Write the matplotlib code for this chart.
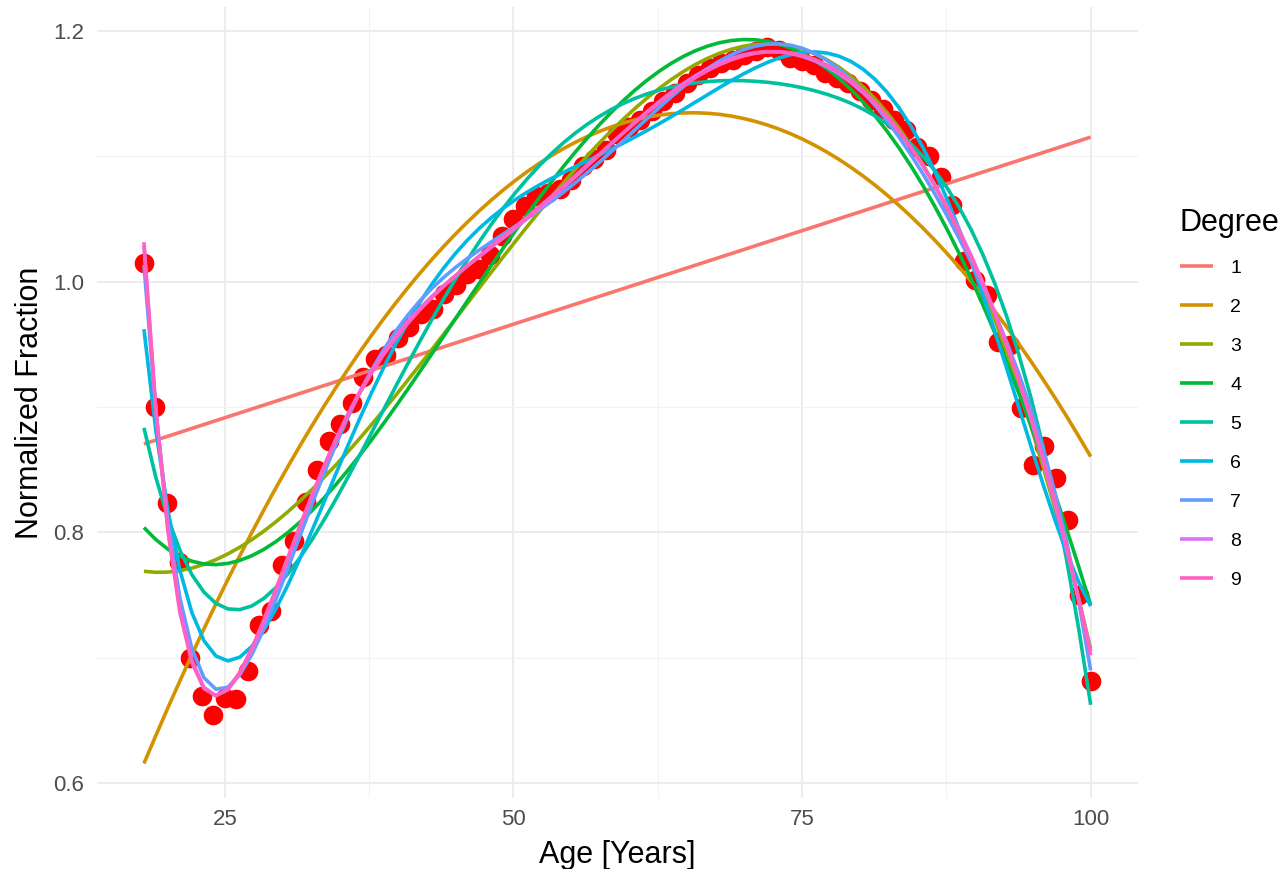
import numpy as np
import matplotlib.pyplot as plt
from matplotlib.ticker import MultipleLocator

plt.rcParams['font.family'] = ['Liberation Sans', 'DejaVu Sans']

# Datos: edad y fraccion normalizada
edad = np.arange(18, 101)
fraccion = [
    1.015, 0.900, 0.823, 0.776, 0.700, 0.669, 0.654, 0.668, 0.667, 0.689,
    0.726, 0.737, 0.774, 0.793, 0.824, 0.850, 0.873, 0.886, 0.903, 0.924,
    0.938, 0.941, 0.955, 0.964, 0.974, 0.978, 0.990, 0.997, 1.006, 1.010,
    1.021, 1.036, 1.050, 1.060, 1.068, 1.071, 1.074, 1.081, 1.092, 1.098,
    1.105, 1.118, 1.123, 1.129, 1.136, 1.144, 1.150, 1.158, 1.165, 1.170,
    1.174, 1.177, 1.181, 1.184, 1.187, 1.185, 1.178, 1.176, 1.173, 1.166,
    1.162, 1.158, 1.152, 1.145, 1.138, 1.129, 1.121, 1.107, 1.100, 1.083,
    1.061, 1.016, 1.001, 0.989, 0.952, 0.949, 0.899, 0.854, 0.869, 0.843,
    0.810, 0.750, 0.681,
]

grados = [1, 2, 3, 4, 5, 6, 7, 8, 9]
colores = ['#F8766D', '#D39200', '#93AA00', '#00BA38', '#00C19F',
           '#00B9E3', '#619CFF', '#DB72FB', '#FF61C3']

fig = plt.figure(figsize=(12.81, 8.69), dpi=100)
ax = fig.add_axes([96.6 / 1281, 71 / 869, (1138 - 96.6) / 1281, 791 / 869])

# Puntos
ax.scatter(edad, fraccion, s=200, color='red', zorder=2, linewidths=0)

# Ajustes polinomiales de cada grado
x_fit = np.linspace(edad.min(), edad.max(), 80)
for g, c in zip(grados, colores):
    p = np.polynomial.Polynomial.fit(edad, fraccion, g)
    ax.plot(x_fit, p(x_fit), color=c, lw=2.6, label=str(g), zorder=3,
            solid_capstyle='butt')

ax.set_xlim(13.9, 104.1)
ax.set_ylim(0.588, 1.219)
ax.xaxis.set_major_locator(MultipleLocator(25))
ax.xaxis.set_minor_locator(MultipleLocator(12.5))
ax.yaxis.set_major_locator(MultipleLocator(0.2))
ax.yaxis.set_minor_locator(MultipleLocator(0.1))
ax.yaxis.set_major_formatter(plt.FuncFormatter(lambda v, pos: f'{v:.1f}'))

ax.grid(which='major', color='#EBEBEB', lw=1.3)
ax.grid(which='minor', color='#F2F2F2', lw=0.8)
ax.set_axisbelow(True)
for s in ax.spines.values():
    s.set_visible(False)
ax.tick_params(which='both', length=0, labelsize=16, labelcolor='#4D4D4D')
ax.tick_params(axis='y', pad=9)
ax.tick_params(axis='x', pad=8)

ax.set_xlabel('Age [Years]', fontsize=22, labelpad=7)
ax.set_ylabel('Normalized Fraction', fontsize=22, labelpad=6)

leg = ax.legend(title='Degree', loc='upper left', bbox_to_anchor=(1174 / 1281, 1 - 202 / 869),
                bbox_transform=fig.transFigure, frameon=False, fontsize=14,
                title_fontsize=22, handlelength=1.7, handletextpad=0.9,
                labelspacing=1.1, borderaxespad=0, borderpad=0.3)
leg._legend_box.align = 'left'

fig.savefig('out.png', dpi=100)
